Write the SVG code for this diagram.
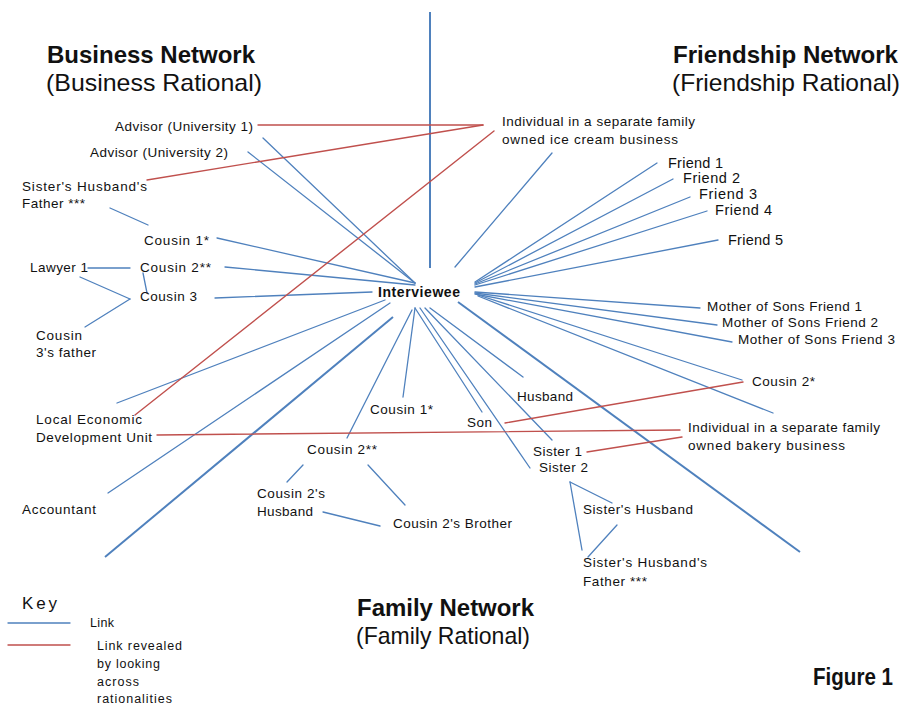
<svg xmlns="http://www.w3.org/2000/svg" width="906" height="713" viewBox="0 0 906 713">
<style>
.b{stroke:#4F81BD;stroke-width:1.3;fill:none;stroke-linecap:round}
.ax{stroke:#4F81BD;stroke-width:2;fill:none}
.r{stroke:#C0504D;stroke-width:1.4;fill:none;stroke-linecap:round}
.t{font-family:'Liberation Sans',Arial,sans-serif;font-size:13.5px;fill:#111}
.f{font-family:'Liberation Sans',Arial,sans-serif;font-size:14.5px;fill:#111}
.k{font-family:'Liberation Sans',Arial,sans-serif;font-size:12.5px;fill:#111}
.i{font-family:'Liberation Sans',Arial,sans-serif;font-size:14px;font-weight:bold;fill:#111}
.ky{font-family:'Liberation Sans',Arial,sans-serif;font-size:17px;fill:#111}
.h{font-family:'Liberation Sans Narrow','Liberation Sans',Arial,sans-serif;font-size:24px;fill:#111}
.hb{font-family:'Liberation Sans Narrow','Liberation Sans',Arial,sans-serif;font-size:24px;font-weight:bold;fill:#111}
</style>
<rect width="906" height="713" fill="#fff"/>
<g id="axes">
<line class="ax" x1="430" y1="12" x2="430" y2="268"/>
<line class="ax" x1="105" y1="557" x2="393" y2="317"/>
<line class="ax" x1="458" y1="302" x2="800" y2="552"/>
</g>
<g id="connectors">
<line class="b" x1="263" y1="138" x2="415" y2="283"/>
<line class="b" x1="248" y1="152" x2="415" y2="283"/>
<line class="b" x1="110" y1="208" x2="148" y2="225"/>
<line class="b" x1="217" y1="238" x2="415" y2="283"/>
<line class="b" x1="225" y1="267" x2="415" y2="285"/>
<line class="b" x1="130" y1="268" x2="88" y2="268"/>
<line class="b" x1="143" y1="273" x2="147" y2="293"/>
<line class="b" x1="215" y1="298" x2="372" y2="292"/>
<line class="b" x1="80" y1="277" x2="130" y2="299"/>
<line class="b" x1="85" y1="327" x2="130" y2="299"/>
<line class="b" x1="117" y1="403" x2="385" y2="300"/>
<line class="b" x1="108" y1="493" x2="390" y2="303"/>
<line class="b" x1="552" y1="153" x2="455" y2="267"/>
<line class="b" x1="657" y1="163" x2="475" y2="282"/>
<line class="b" x1="673" y1="179" x2="475" y2="283"/>
<line class="b" x1="690" y1="197" x2="475" y2="284"/>
<line class="b" x1="707" y1="211" x2="475" y2="285"/>
<line class="b" x1="718" y1="240" x2="475" y2="287"/>
<line class="b" x1="700" y1="308" x2="475" y2="292"/>
<line class="b" x1="717" y1="325" x2="475" y2="293"/>
<line class="b" x1="732" y1="342" x2="475" y2="294"/>
<line class="b" x1="742" y1="380" x2="478" y2="295"/>
<line class="b" x1="773" y1="413" x2="478" y2="296"/>
<line class="b" x1="415" y1="308" x2="403" y2="397"/>
<line class="b" x1="412" y1="310" x2="347" y2="438"/>
<line class="b" x1="415" y1="308" x2="482" y2="412"/>
<line class="b" x1="420" y1="308" x2="530" y2="468"/>
<line class="b" x1="425" y1="308" x2="552" y2="440"/>
<line class="b" x1="430" y1="308" x2="523" y2="377"/>
<line class="b" x1="303" y1="465" x2="287" y2="482"/>
<line class="b" x1="368" y1="465" x2="405" y2="505"/>
<line class="b" x1="323" y1="512" x2="380" y2="526"/>
<line class="b" x1="570" y1="482" x2="612" y2="503"/>
<line class="b" x1="570" y1="482" x2="582" y2="550"/>
<line class="b" x1="617" y1="525" x2="588" y2="557"/>
<line class="r" x1="258" y1="125" x2="483" y2="125"/>
<line class="r" x1="147" y1="180" x2="483" y2="125"/>
<line class="r" x1="494" y1="131" x2="135" y2="415"/>
<line class="r" x1="157" y1="435" x2="680" y2="430"/>
<line class="r" x1="505" y1="423" x2="743" y2="382"/>
<line class="r" x1="587" y1="452" x2="682" y2="437"/>
</g>
<g id="titles">
<text class="hb" x="47" y="63" textLength="208" lengthAdjust="spacingAndGlyphs">Business Network</text>
<text class="h" x="46" y="91" textLength="216" lengthAdjust="spacingAndGlyphs">(Business Rational)</text>
<text class="hb" x="673" y="63" textLength="225" lengthAdjust="spacingAndGlyphs">Friendship Network</text>
<text class="h" x="672" y="91" textLength="228" lengthAdjust="spacingAndGlyphs">(Friendship Rational)</text>
<text class="hb" x="357" y="616" textLength="177" lengthAdjust="spacingAndGlyphs">Family Network</text>
<text class="h" x="356" y="644" textLength="174" lengthAdjust="spacingAndGlyphs">(Family Rational)</text>
<text class="hb" x="813" y="685" textLength="80" lengthAdjust="spacingAndGlyphs">Figure 1</text>
</g>
<g id="interviewee"><text class="i" x="378" y="297" textLength="82">Interviewee</text></g>
<g id="advisor1"><text class="t" x="115" y="131" textLength="138">Advisor (University 1)</text></g>
<g id="advisor2"><text class="t" x="90" y="157" textLength="138">Advisor (University 2)</text></g>
<g id="shf-left"><text class="t" x="22" y="191" textLength="125">Sister's Husband's</text><text class="t" x="22" y="208" textLength="63">Father ***</text></g>
<g id="cousin1-left"><text class="t" x="144" y="245" textLength="65">Cousin 1*</text></g>
<g id="cousin2-left"><text class="t" x="140" y="272" textLength="71">Cousin 2**</text></g>
<g id="lawyer1"><text class="t" x="30" y="272" textLength="58">Lawyer 1</text></g>
<g id="cousin3"><text class="t" x="140" y="301" textLength="57">Cousin 3</text></g>
<g id="cousin3-father"><text class="t" x="36" y="340" textLength="46">Cousin</text><text class="t" x="36" y="357" textLength="60">3's father</text></g>
<g id="ledu"><text class="t" x="36" y="424" textLength="106">Local Economic</text><text class="t" x="36" y="442" textLength="116">Development Unit</text></g>
<g id="accountant"><text class="t" x="22" y="514" textLength="74">Accountant</text></g>
<g id="icecream"><text class="t" x="502" y="126" textLength="193">Individual in a separate family</text><text class="t" x="502" y="144" textLength="176">owned ice cream business</text></g>
<g id="friend1"><text class="f" x="668" y="168" textLength="55">Friend 1</text></g>
<g id="friend2"><text class="f" x="683" y="183" textLength="57">Friend 2</text></g>
<g id="friend3"><text class="f" x="699" y="199" textLength="58">Friend 3</text></g>
<g id="friend4"><text class="f" x="715" y="215" textLength="57">Friend 4</text></g>
<g id="friend5"><text class="f" x="728" y="245" textLength="55">Friend 5</text></g>
<g id="mosf1"><text class="t" x="707" y="311" textLength="155">Mother of Sons Friend 1</text></g>
<g id="mosf2"><text class="t" x="722" y="327" textLength="156">Mother of Sons Friend 2</text></g>
<g id="mosf3"><text class="t" x="738" y="344" textLength="157">Mother of Sons Friend 3</text></g>
<g id="cousin2-right"><text class="t" x="752" y="386" textLength="63">Cousin 2*</text></g>
<g id="bakery"><text class="t" x="688" y="432" textLength="192">Individual in a separate family</text><text class="t" x="688" y="450" textLength="157">owned bakery business</text></g>
<g id="husband"><text class="t" x="517" y="401" textLength="56">Husband</text></g>
<g id="son"><text class="t" x="467" y="427" textLength="25">Son</text></g>
<g id="cousin1-bottom"><text class="t" x="370" y="414" textLength="63">Cousin 1*</text></g>
<g id="cousin2-bottom"><text class="t" x="307" y="454" textLength="70">Cousin 2**</text></g>
<g id="sister1"><text class="t" x="533" y="456" textLength="49">Sister 1</text></g>
<g id="sister2"><text class="t" x="539" y="472" textLength="49">Sister 2</text></g>
<g id="cousin2-husband"><text class="t" x="257" y="498" textLength="68">Cousin 2's</text><text class="t" x="257" y="516" textLength="56">Husband</text></g>
<g id="cousin2-brother"><text class="t" x="393" y="528" textLength="119">Cousin 2's Brother</text></g>
<g id="sisters-husband"><text class="t" x="583" y="514" textLength="110">Sister's Husband</text></g>
<g id="shf-right"><text class="t" x="583" y="567" textLength="124">Sister's Husband's</text><text class="t" x="583" y="586" textLength="64">Father ***</text></g>
<g id="key">
<text class="ky" x="22" y="609" textLength="35">Key</text>
<line class="b" x1="8" y1="623" x2="70" y2="623"/>
<text class="k" x="90" y="627" textLength="24">Link</text>
<line class="r" x1="8" y1="645" x2="70" y2="645"/>
<text class="k" x="97" y="650" textLength="85">Link revealed</text>
<text class="k" x="97" y="668" textLength="63">by looking</text>
<text class="k" x="97" y="686" textLength="42">across</text>
<text class="k" x="97" y="703" textLength="75">rationalities</text>
</g>
</svg>
